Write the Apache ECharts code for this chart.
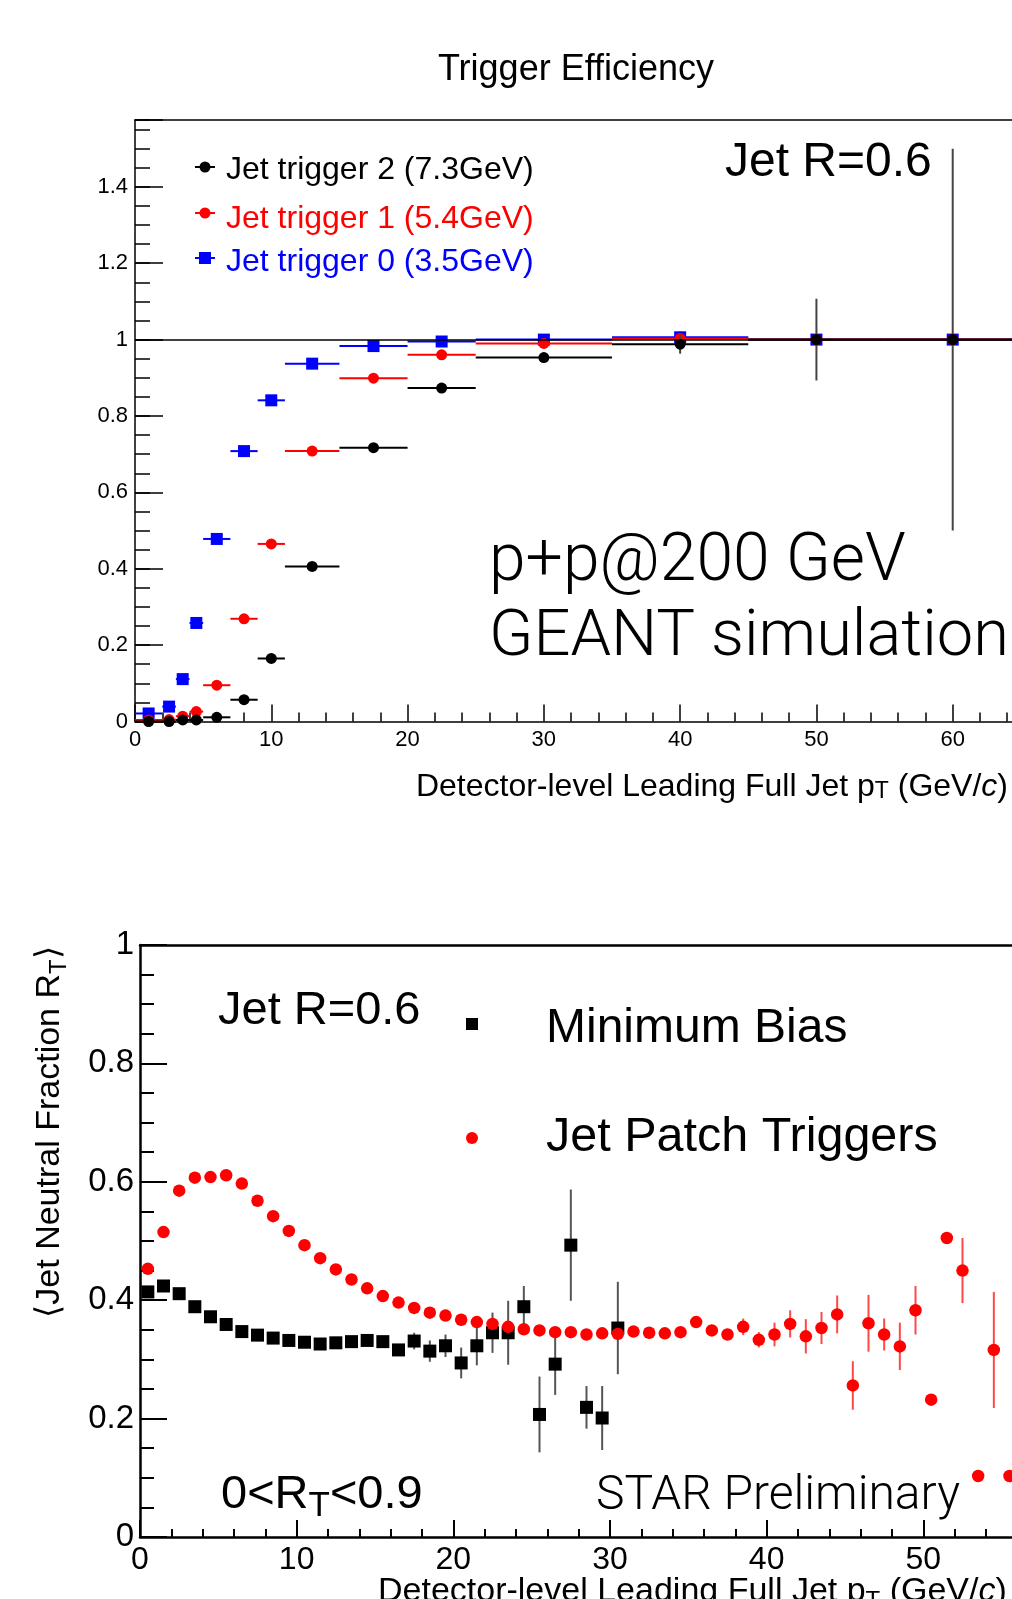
<!DOCTYPE html>
<html>
<head>
<meta charset="utf-8">
<script src="https://cdn.jsdelivr.net/npm/echarts@6/dist/echarts.min.js"></script>
<style>
html, body { margin: 0; padding: 0; background: #fff; }
#chart { width: 1012px; height: 1599px; }
</style>
</head>
<body>
<div id="chart"></div>
<script>
// ---- top panel: trigger efficiency, variable pT bins ----
const trigPt    = [1, 2.5, 3.5, 4.5, 6, 8, 10, 13, 17.5, 22.5, 30, 40, 50, 60];
const trigBinLo = [0, 2, 3, 4, 5, 7, 9, 11, 15, 20, 25, 35, 45, 55];
const trigBinHi = [2, 3, 4, 5, 7, 9, 11, 15, 20, 25, 35, 45, 55, 65];

const jetTrig2Eff = [0.0, 0.0, 0.004, 0.004, 0.011, 0.057, 0.165, 0.406, 0.717, 0.873, 0.953, 0.988, 1.0, 1.0];
const jetTrig2Err = [0, 0, 0, 0, 0, 0, 0, 0, 0, 0, 0, 0.025, 0.107, 0.5];
const jetTrig1Eff = [0.004, 0.005, 0.014, 0.026, 0.095, 0.269, 0.465, 0.708, 0.899, 0.960, 0.990, 1.003, 1.0, 1.0];
const jetTrig1Err = [0, 0, 0, 0, 0, 0, 0, 0, 0, 0, 0, 0.01, 0, 0];
const jetTrig0Eff = [0.021, 0.039, 0.111, 0.258, 0.478, 0.708, 0.841, 0.937, 0.983, 0.995, 1.0, 1.006, 1.0, 1.0];
const jetTrig0Err = [0, 0, 0, 0, 0, 0, 0, 0, 0, 0, 0, 0.015, 0, 0];

// ---- bottom panel: <R_T> vs leading jet pT (1 GeV bins) ----
const rtBins = [0.5, 1.5, 2.5, 3.5, 4.5, 5.5, 6.5, 7.5, 8.5, 9.5, 10.5, 11.5, 12.5, 13.5,
  14.5, 15.5, 16.5, 17.5, 18.5, 19.5, 20.5, 21.5, 22.5, 23.5, 24.5, 25.5, 26.5, 27.5,
  28.5, 29.5, 30.5, 31.5, 32.5, 33.5, 34.5, 35.5, 36.5, 37.5, 38.5, 39.5, 40.5, 41.5,
  42.5, 43.5, 44.5, 45.5, 46.5, 47.5, 48.5, 49.5, 50.5, 51.5, 52.5, 53.5, 54.5, 55.5];

const minBiasRt = [0.414, 0.424, 0.411, 0.389, 0.372, 0.359, 0.347, 0.341, 0.336, 0.332,
  0.329, 0.326, 0.328, 0.330, 0.332, 0.330, 0.316, 0.331, 0.314, 0.323, 0.294, 0.323,
  0.345, 0.345, 0.389, 0.207, 0.292, 0.493, 0.219, 0.201, 0.353];
const minBiasErr = [0, 0, 0, 0, 0, 0, 0, 0, 0, 0, 0, 0, 0, 0, 0, 0,
  0.010, 0.014, 0.018, 0.019, 0.026, 0.033, 0.034, 0.054, 0.035, 0.064, 0.052, 0.094,
  0.036, 0.054, 0.078];

const jetPatchRt = [0.453, 0.515, 0.585, 0.607, 0.608, 0.611, 0.597, 0.568, 0.542, 0.517,
  0.493, 0.471, 0.452, 0.435, 0.420, 0.407, 0.396, 0.387, 0.379, 0.374, 0.367, 0.363,
  0.360, 0.355, 0.351, 0.349, 0.346, 0.346, 0.342, 0.344, 0.343, 0.347, 0.345, 0.344,
  0.346, 0.363, 0.349, 0.342, 0.355, 0.333, 0.342, 0.360, 0.339, 0.353, 0.376, 0.256,
  0.361, 0.342, 0.322, 0.383, 0.232, 0.505, 0.450, 0.103, 0.316, 0.103];
const jetPatchErr = [0, 0, 0, 0, 0, 0, 0, 0, 0, 0, 0, 0, 0, 0, 0, 0, 0, 0, 0, 0,
  0, 0, 0, 0, 0, 0, 0, 0, 0, 0, 0, 0, 0, 0, 0, 0, 0, 0,
  0.014, 0.013, 0.020, 0.023, 0.029, 0.027, 0.032, 0.041, 0.048, 0.027, 0.040, 0.041,
  0, 0, 0.055, 0, 0.098, 0];

const SANS = '"Liberation Sans", Arial, Helvetica, sans-serif';
const LIGHT = 'Roboto, "Liberation Sans", sans-serif';

// [x, y, xlo, xhi, yerr]
function trigData(eff, err) {
  return trigPt.map((x, i) => [x, eff[i], trigBinLo[i], trigBinHi[i], err[i]]);
}
function rtData(vals, err) {
  return vals.map((v, i) => [rtBins[i], v, rtBins[i], rtBins[i], err[i]]);
}

function errorRender(color, errColor, shape, size) {
  return function (params, api) {
    const x = api.value(0), y = api.value(1);
    const c = api.coord([x, y]);
    const kids = [];
    const xl = api.value(2), xh = api.value(3), e = api.value(4);
    if (xh > xl) {
      const a = api.coord([xl, y]), b = api.coord([xh, y]);
      kids.push({ type: 'line', shape: { x1: a[0], y1: a[1], x2: b[0], y2: b[1] },
        style: { stroke: color, lineWidth: 2 } });
    }
    if (e > 0) {
      const t = api.coord([x, y + e]), bt = api.coord([x, y - e]);
      kids.push({ type: 'line', shape: { x1: t[0], y1: t[1], x2: bt[0], y2: bt[1] },
        style: { stroke: errColor, lineWidth: 2 } });
    }
    if (shape === 'rect') {
      kids.push({ type: 'rect', shape: { x: c[0] - size / 2, y: c[1] - size / 2, width: size, height: size },
        style: { fill: color } });
    } else {
      kids.push({ type: 'circle', shape: { cx: c[0], cy: c[1], r: size / 2 }, style: { fill: color } });
    }
    return { type: 'group', children: kids };
  };
}

function topYLabel(v) {
  const k = v / 0.2;
  return Math.abs(k - Math.round(k)) < 1e-6 ? String(Math.round(v * 10) / 10) : '';
}

const chart = echarts.init(document.getElementById('chart'), null, { renderer: 'canvas' });

// frames run past the right edge of the picture, as in the original
const topGrid = { left: 135, top: 120, width: 954, height: 601.5, outerBoundsMode: 'none', containLabel: false };
const botGrid = { left: 140, top: 945, width: 940, height: 592, outerBoundsMode: 'none', containLabel: false };

chart.setOption({
  animation: false,
  backgroundColor: '#fff',
  grid: [
    Object.assign({}, topGrid),
    Object.assign({}, botGrid),
    Object.assign({}, topGrid)   // only for the minor y ticks of the top panel
  ],
  xAxis: [
    { type: 'value', gridIndex: 0, position: 'bottom', min: 0, max: 70, interval: 10,
      axisLine: { lineStyle: { color: '#000', width: 1.5 } },
      axisTick: { inside: true, length: 17, lineStyle: { color: '#000', width: 1.5 } },
      minorTick: { show: true, splitNumber: 5, length: 9, lineStyle: { color: '#000', width: 1.5 } },
      axisLabel: { color: '#000', fontSize: 22, fontFamily: SANS, margin: 7 },
      splitLine: { show: false } },
    { type: 'value', gridIndex: 0, position: 'top', min: 0, max: 70,
      axisLine: { lineStyle: { color: '#000', width: 1.5 } },
      axisTick: { show: false }, axisLabel: { show: false }, splitLine: { show: false } },
    { type: 'value', gridIndex: 1, position: 'bottom', min: 0, max: 60, interval: 10,
      axisLine: { lineStyle: { color: '#000', width: 2.5 } },
      axisTick: { inside: true, length: 17, lineStyle: { color: '#000', width: 2 } },
      minorTick: { show: true, splitNumber: 5, length: 8, lineStyle: { color: '#000', width: 2 } },
      axisLabel: { color: '#000', fontSize: 32, fontFamily: SANS, margin: 7 },
      splitLine: { show: false } },
    { type: 'value', gridIndex: 1, position: 'top', min: 0, max: 60,
      axisLine: { lineStyle: { color: '#000', width: 2.5 } },
      axisTick: { show: false }, axisLabel: { show: false }, splitLine: { show: false } },
    { type: 'value', gridIndex: 2, min: 0, max: 70, show: false }
  ],
  yAxis: [
    { type: 'value', gridIndex: 0, position: 'left', min: 0, max: 1.575, interval: 0.2,
      axisLine: { show: true, lineStyle: { color: '#000', width: 1.5 } },
      axisTick: { show: true, inside: true, length: 28, lineStyle: { color: '#000', width: 1.5 } },
      axisLabel: { color: '#000', fontSize: 22, fontFamily: SANS, margin: 7, formatter: topYLabel },
      splitLine: { show: false } },
    { type: 'value', gridIndex: 1, position: 'left', min: 0, max: 1, interval: 0.2,
      axisLine: { show: true, lineStyle: { color: '#000', width: 2.5 } },
      axisTick: { show: true, inside: true, length: 27, lineStyle: { color: '#000', width: 2 } },
      minorTick: { show: true, splitNumber: 4, length: 14, lineStyle: { color: '#000', width: 2 } },
      axisLabel: { color: '#000', fontSize: 33, fontFamily: SANS, margin: 6,
        formatter: v => String(Math.round(v * 10) / 10) },
      splitLine: { show: false } },
    { type: 'value', gridIndex: 2, position: 'left', min: 0, max: 1.575, interval: 0.05,
      axisLine: { show: false },
      axisTick: { show: true, inside: true, length: 15, lineStyle: { color: '#000', width: 1.5 } },
      axisLabel: { show: false }, splitLine: { show: false } }
  ],
  series: [
    { name: 'Jet trigger 0 (3.5GeV)', type: 'custom', xAxisIndex: 0, yAxisIndex: 0,
      data: trigData(jetTrig0Eff, jetTrig0Err), encode: { x: 0, y: 1 },
      renderItem: errorRender('#0000ff', '#444', 'rect', 12),
      markLine: { silent: true, symbol: 'none', label: { show: false },
        lineStyle: { color: '#000', width: 1.5, type: 'solid' }, data: [{ yAxis: 1 }] } },
    { name: 'Jet trigger 1 (5.4GeV)', type: 'custom', xAxisIndex: 0, yAxisIndex: 0,
      data: trigData(jetTrig1Eff, jetTrig1Err), encode: { x: 0, y: 1 },
      renderItem: errorRender('#ff0000', '#ff0000', 'circle', 11) },
    { name: 'Jet trigger 2 (7.3GeV)', type: 'custom', xAxisIndex: 0, yAxisIndex: 0,
      data: trigData(jetTrig2Eff, jetTrig2Err), encode: { x: 0, y: 1 },
      renderItem: errorRender('#000', '#444', 'circle', 11) },
    { name: 'Minimum Bias', type: 'custom', xAxisIndex: 2, yAxisIndex: 1,
      data: rtData(minBiasRt, minBiasErr), encode: { x: 0, y: 1 },
      renderItem: errorRender('#000', '#555', 'rect', 13) },
    { name: 'Jet Patch Triggers', type: 'custom', xAxisIndex: 2, yAxisIndex: 1,
      data: rtData(jetPatchRt, jetPatchErr), encode: { x: 0, y: 1 },
      renderItem: errorRender('#ff0000', 'rgba(255,40,40,0.85)', 'circle', 12.5) }
  ],
  graphic: [
    // top panel texts
    { type: 'text', x: 576, y: 70, style: { text: 'Trigger Efficiency', fontSize: 36, fontFamily: SANS,
      fill: '#000', align: 'center', verticalAlign: 'middle' } },
    { type: 'line', shape: { x1: 195, y1: 167, x2: 215, y2: 167 }, style: { stroke: '#000', lineWidth: 2 } },
    { type: 'circle', shape: { cx: 205, cy: 167, r: 5.5 }, style: { fill: '#000' } },
    { type: 'text', x: 226, y: 170, style: { text: 'Jet trigger 2 (7.3GeV)', fontSize: 32, fontFamily: SANS,
      fill: '#000', align: 'left', verticalAlign: 'middle' } },
    { type: 'line', shape: { x1: 195, y1: 213, x2: 215, y2: 213 }, style: { stroke: '#ff0000', lineWidth: 2 } },
    { type: 'circle', shape: { cx: 205, cy: 213, r: 5.5 }, style: { fill: '#ff0000' } },
    { type: 'text', x: 226, y: 219, style: { text: 'Jet trigger 1 (5.4GeV)', fontSize: 32, fontFamily: SANS,
      fill: '#ff0000', align: 'left', verticalAlign: 'middle' } },
    { type: 'line', shape: { x1: 195, y1: 258, x2: 215, y2: 258 }, style: { stroke: '#0000ff', lineWidth: 2 } },
    { type: 'rect', shape: { x: 199, y: 252, width: 12, height: 12 }, style: { fill: '#0000ff' } },
    { type: 'text', x: 226, y: 262, style: { text: 'Jet trigger 0 (3.5GeV)', fontSize: 32, fontFamily: SANS,
      fill: '#0000ff', align: 'left', verticalAlign: 'middle' } },
    { type: 'text', x: 725, y: 163, style: { text: 'Jet R=0.6', fontSize: 48, fontFamily: SANS,
      fill: '#000', align: 'left', verticalAlign: 'middle' } },
    { type: 'text', x: 489, y: 563, style: { text: 'p+p@200 GeV', fontSize: 66, fontFamily: LIGHT, fontWeight: 300,
      fill: '#000', align: 'left', verticalAlign: 'middle' } },
    { type: 'text', x: 489, y: 639, style: { text: 'GEANT simulation', fontSize: 65, fontFamily: LIGHT, fontWeight: 300,
      fill: '#000', align: 'left', verticalAlign: 'middle' } },
    { type: 'text', x: 1008, y: 787, style: {
      text: 'Detector-level Leading Full Jet p{s|T} (GeV/{i|c})',
      fontSize: 32, fontFamily: SANS, lineHeight: 32, fill: '#000', align: 'right', verticalAlign: 'middle',
      rich: { s: { fontSize: 23, lineHeight: 23, fontFamily: SANS, verticalAlign: 'bottom' },
              i: { fontSize: 32, fontFamily: SANS, fontStyle: 'italic' } } } },
    // bottom panel texts
    { type: 'text', x: 50, y: 1132, rotation: Math.PI / 2, style: {
      text: '\u27e8Jet Neutral Fraction R{s|T}\u27e9',
      fontSize: 34, fontFamily: SANS, lineHeight: 43, fill: '#000', align: 'center', verticalAlign: 'middle',
      rich: { s: { fontSize: 24, lineHeight: 24, fontFamily: SANS, verticalAlign: 'bottom' } } } },
    { type: 'text', x: 218, y: 1011, style: { text: 'Jet R=0.6', fontSize: 47, fontFamily: SANS,
      fill: '#000', align: 'left', verticalAlign: 'middle' } },
    { type: 'rect', shape: { x: 466, y: 1018, width: 12, height: 12 }, style: { fill: '#000' } },
    { type: 'text', x: 546, y: 1029, style: { text: 'Minimum Bias', fontSize: 48, fontFamily: SANS,
      fill: '#000', align: 'left', verticalAlign: 'middle' } },
    { type: 'circle', shape: { cx: 472, cy: 1138, r: 6 }, style: { fill: '#ff0000' } },
    { type: 'text', x: 546, y: 1138, style: { text: 'Jet Patch Triggers', fontSize: 48.5, fontFamily: SANS,
      fill: '#000', align: 'left', verticalAlign: 'middle' } },
    { type: 'text', x: 221, y: 1495, style: {
      text: '0<R{s|T}<0.9', fontSize: 47, fontFamily: SANS, lineHeight: 57, fill: '#000',
      align: 'left', verticalAlign: 'middle',
      rich: { s: { fontSize: 35, lineHeight: 35, fontFamily: SANS, verticalAlign: 'bottom' } } } },
    { type: 'text', x: 596, y: 1497, style: { text: 'STAR Preliminary', fontSize: 48, fontFamily: LIGHT, fontWeight: 300,
      fill: '#000', align: 'left', verticalAlign: 'middle' } },
    { type: 'text', x: 378, y: 1592, style: {
      text: 'Detector-level Leading Full Jet p{s|T} (GeV/{i|c})',
      fontSize: 34, fontFamily: SANS, lineHeight: 42, fill: '#000', align: 'left', verticalAlign: 'middle',
      rich: { s: { fontSize: 24, lineHeight: 24, fontFamily: SANS, verticalAlign: 'bottom' },
              i: { fontSize: 34, fontFamily: SANS, fontStyle: 'italic' } } } }
  ]
});
</script>
</body>
</html>
